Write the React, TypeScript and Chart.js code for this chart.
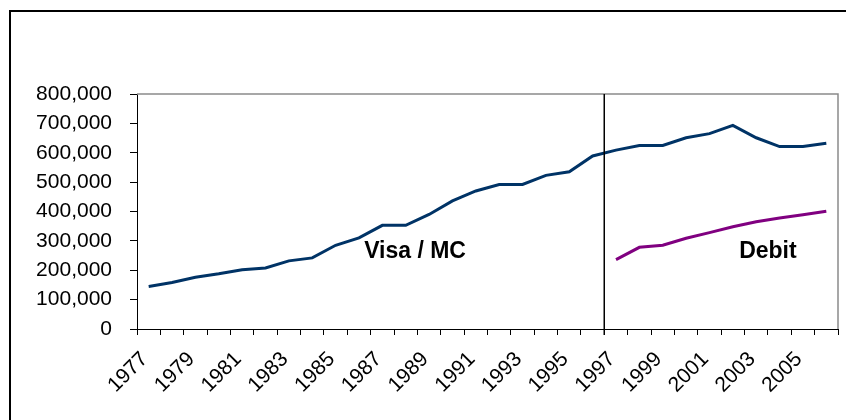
import React, { useEffect, useRef } from "react";
import { Chart, registerables } from "chart.js";

Chart.register(...registerables);

const years = [
  "1977", "1978", "1979", "1980", "1981", "1982", "1983", "1984", "1985", "1986",
  "1987", "1988", "1989", "1990", "1991", "1992", "1993", "1994", "1995", "1996",
  "1997", "1998", "1999", "2000", "2001", "2002", "2003", "2004", "2005", "2006",
];

const visaMc = [
  145000, 158000, 176000, 188000, 202000, 208000, 232000, 242000, 285000, 310000,
  353000, 353000, 390000, 436000, 470000, 492000, 492000, 523000, 535000, 589000,
  609000, 625000, 625000, 651000, 665000, 693000, 651000, 621000, 621000, 632000,
];

const debit = [
  null, null, null, null, null, null, null, null, null, null,
  null, null, null, null, null, null, null, null, null, null,
  236000, 278000, 285000, 309000, 328000, 348000, 365000, 378000, 389000, 401000,
];

const seriesNames = ["Visa / MC", "Debit"];
// annotation text anchored in data space: [category index, value]
const annotationTexts = ["Visa / MC", "Debit"];
const annotationIndex = [11.4, 26.5];
const annotationValue = [262000, 262000];
// index of the first category to the right of the divider line
const dividerIndex = 20;

const FONT = "'Liberation Sans', Arial, Helvetica, sans-serif";

const decorPlugin = {
  id: "decor",
  afterDraw(chart: any) {
    const ctx = chart.ctx;
    const area = chart.chartArea;
    const xs = chart.scales.x;
    const ys = chart.scales.y;
    ctx.save();
    // outer frame
    ctx.strokeStyle = "#000";
    ctx.lineWidth = 2;
    ctx.beginPath();
    ctx.moveTo(10, 430);
    ctx.lineTo(10, 11);
    ctx.lineTo(860, 11);
    ctx.stroke();
    // plot area top/right border (gray)
    ctx.strokeStyle = "#8a8a8a";
    ctx.lineWidth = 1.5;
    ctx.beginPath();
    ctx.moveTo(area.left, area.top);
    ctx.lineTo(area.right, area.top);
    ctx.lineTo(area.right, area.bottom);
    ctx.stroke();
    // divider line
    const dx =
      (xs.getPixelForValue(dividerIndex - 1) + xs.getPixelForValue(dividerIndex)) / 2;
    ctx.strokeStyle = "#000";
    ctx.lineWidth = 1.5;
    ctx.beginPath();
    ctx.moveTo(Math.round(dx) + 0.25, area.top);
    ctx.lineTo(Math.round(dx) + 0.25, area.bottom + 6);
    ctx.stroke();
    // annotations
    ctx.fillStyle = "#000";
    ctx.font = `bold 23px ${FONT}`;
    ctx.textAlign = "center";
    ctx.textBaseline = "middle";
    annotationTexts.forEach((t, i) => {
      ctx.fillText(
        t,
        xs.getPixelForValue(annotationIndex[i]),
        ys.getPixelForValue(annotationValue[i])
      );
    });
    ctx.restore();
  },
};

export default function App() {
  const ref = useRef<HTMLCanvasElement>(null);
  useEffect(() => {
    if (!ref.current) return;
    const chart = new Chart(ref.current, {
      type: "line",
      data: {
        labels: years,
        datasets: [
          {
            label: seriesNames[0],
            data: visaMc,
            borderColor: "#003366",
            borderWidth: 3,
            pointRadius: 0,
            tension: 0,
            fill: false,
          },
          {
            label: seriesNames[1],
            data: debit as any,
            borderColor: "#800080",
            borderWidth: 3,
            pointRadius: 0,
            tension: 0,
            fill: false,
          },
        ],
      },
      options: {
        responsive: false,
        animation: false,
        devicePixelRatio: 1,
        layout: { padding: { top: 94, right: 8, left: 0, bottom: 0 } },
        plugins: {
          legend: { display: false },
          tooltip: { enabled: false },
        },
        scales: {
          x: {
            type: "category",
            offset: true,
            grid: {
              offset: true,
              drawOnChartArea: false,
              drawTicks: true,
              tickLength: 6,
              color: "#000",
            },
            border: { display: true, color: "#000", width: 1 },
            ticks: {
              autoSkip: false,
              maxRotation: 45,
              minRotation: 45,
              color: "#000",
              font: { family: FONT, size: 21 },
              padding: 12,
              labelOffset: -4,
              callback: (_v: any, i: number) => (i % 2 === 0 ? years[i] : ""),
            },
            afterFit: (s: any) => {
              s.height = 91;
              s.paddingLeft = 0;
              s.paddingRight = 0;
            },
          },
          y: {
            min: 0,
            max: 800000,
            grid: {
              drawOnChartArea: false,
              drawTicks: true,
              tickLength: 7,
              color: "#000",
            },
            border: { display: true, color: "#000", width: 1 },
            ticks: {
              stepSize: 100000,
              color: "#000",
              padding: 18,
              font: { family: FONT, size: 21 },
              callback: (v: any) => Number(v).toLocaleString("en-US"),
            },
            afterFit: (s: any) => {
              s.width = 137;
            },
          },
        },
      },
      plugins: [decorPlugin],
    });
    return () => chart.destroy();
  }, []);
  return (
    <div style={{ position: "absolute", left: 0, top: 0, width: 846, height: 420, background: "#fff" }}>
      <canvas ref={ref} width={846} height={420} style={{ display: "block" }} />
    </div>
  );
}
